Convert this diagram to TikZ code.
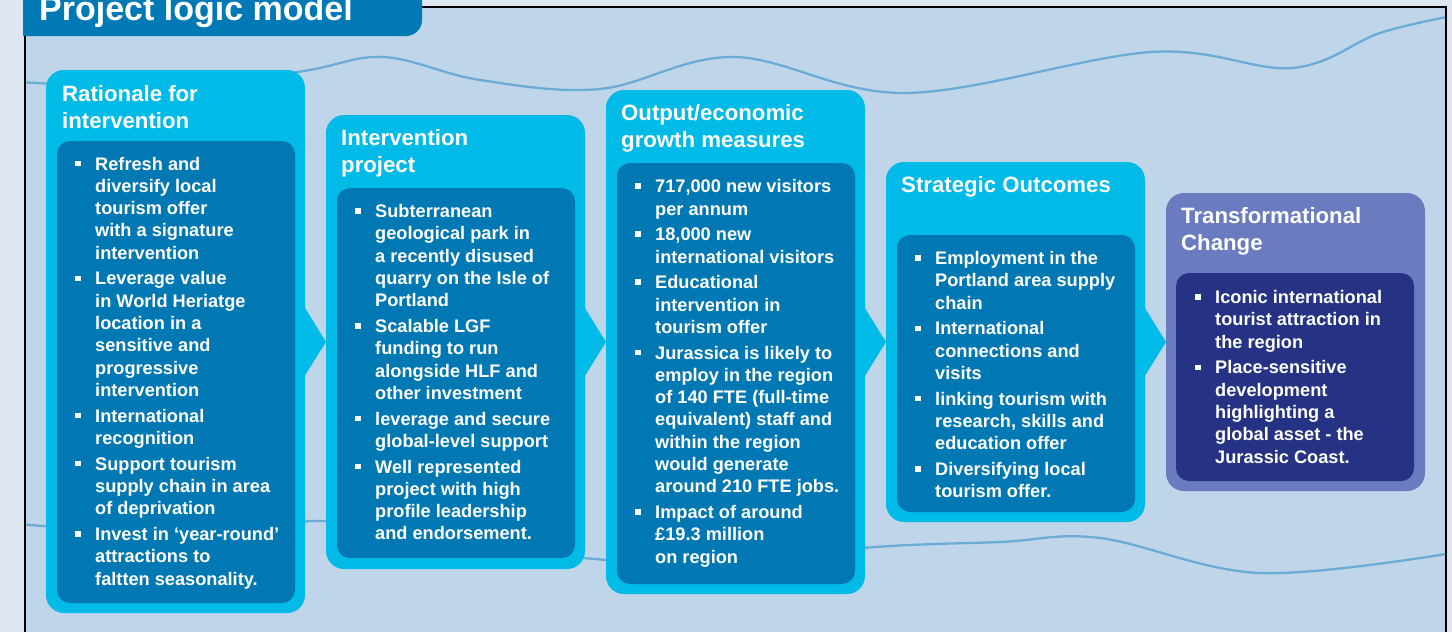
\documentclass[tikz,border=0pt]{standalone}
\usepackage{fontspec}
\setmainfont{Liberation Sans}
\usepackage{array}
\definecolor{stripc}{RGB}{222,231,242}
\definecolor{panelc}{RGB}{191,214,234}
\definecolor{tabc}{RGB}{0,121,181}
\definecolor{innerc}{RGB}{0,120,180}
\definecolor{outerc}{RGB}{0,186,231}
\definecolor{purpc}{RGB}{106,123,191}
\definecolor{navyc}{RGB}{38,50,132}
\definecolor{wavec}{RGB}{107,172,214}
\newcommand\bul{\makebox[20pt][l]{\rule[3.75pt]{5.5pt}{5.5pt}}}
\tikzset{
  outerbox/.style={rectangle, rounded corners=18pt, fill=outerc, inner sep=0pt, outer sep=0pt},
  innerbox/.style={rectangle, rounded corners=13pt, fill=innerc, inner sep=0pt, outer sep=0pt},
  listtext/.style={anchor=base west, inner sep=0pt, text=white, font=\bfseries\fontsize{18.2}{22.3}\selectfont},
  headtext/.style={anchor=base west, inner sep=0pt, text=white, font=\bfseries\fontsize{22.2}{27}\selectfont},
  wave/.style={draw=wavec, line width=2.3pt},
  frame/.style={draw=black, line width=2.4pt},
  chevron/.style={fill=outerc}
}
\begin{document}
\begin{tikzpicture}[x=1pt,y=-1pt]
\useasboundingbox (0,0) rectangle (1452,632);
% background
\fill[stripc] (0,0) rectangle (1452,632);
\fill[panelc] (24,7) rectangle (1447,632);
% waves
\begin{scope}
\clip (25,7) rectangle (1446,632);
\draw[wave] plot[smooth, tension=0.6] coordinates {(20,82) (150,86) (297,72) (383,57) (480,80) (600,89) (734,57) (906,93) (1151,52) (1292,68) (1380,33) (1452,16)};
\draw[wave] plot[smooth, tension=0.6] coordinates {(20,524) (170,533) (330,521) (460,540) (595,559) (720,562) (875,547) (1000,542) (1100,538) (1260,573) (1452,553)};
\end{scope}
% boxes
\node[outerbox, minimum width=259pt, minimum height=543pt] (c1) at (175.5,341.5) {};
\node[innerbox, minimum width=238pt, minimum height=462pt] (i1) at (176,372) {};
\node[outerbox, minimum width=259pt, minimum height=454pt] (c2) at (455.5,342) {};
\node[innerbox, minimum width=238pt, minimum height=370pt] (i2) at (456,373) {};
\node[outerbox, minimum width=259pt, minimum height=504pt] (c3) at (735.5,342) {};
\node[innerbox, minimum width=238pt, minimum height=421pt] (i3) at (736,373.5) {};
\node[outerbox, minimum width=259pt, minimum height=360pt] (c4) at (1015.5,342) {};
\node[innerbox, minimum width=238pt, minimum height=277pt] (i4) at (1016,373.5) {};
\node[outerbox, fill=purpc, minimum width=259pt, minimum height=298pt] (c5) at (1295.5,342) {};
\node[innerbox, fill=navyc, minimum width=238pt, minimum height=208pt] (i5) at (1295,377) {};
% chevrons
\fill[chevron] ([xshift=-2pt,yshift=37pt]c1.east) -- (c2.west) -- ([xshift=-2pt,yshift=-37pt]c1.east) -- cycle;
\fill[chevron] ([xshift=-2pt,yshift=37pt]c2.east) -- (c3.west) -- ([xshift=-2pt,yshift=-37pt]c2.east) -- cycle;
\fill[chevron] ([xshift=-2pt,yshift=37pt]c3.east) -- (c4.west) -- ([xshift=-2pt,yshift=-37pt]c3.east) -- cycle;
\fill[chevron] ([xshift=-2pt,yshift=37pt]c4.east) -- (c5.west) -- ([xshift=-2pt,yshift=-37pt]c4.east) -- cycle;
% headings
\node[headtext] (h1) at (62,101) {\begin{tabular}[t]{@{}l@{}}Rationale for\\intervention\end{tabular}};
\node[headtext] (h2) at (341,145.5) {\begin{tabular}[t]{@{}l@{}}Intervention\\project\end{tabular}};
\node[headtext] (h3) at (621,120.5) {\begin{tabular}[t]{@{}l@{}}Output/economic\\growth measures\end{tabular}};
\node[headtext] (h4) at (901,192.5) {Strategic Outcomes};
\node[headtext] (h5) at (1181,223.5) {\begin{tabular}[t]{@{}l@{}}Transformational\\Change\end{tabular}};
% lists
\node[listtext] (t1) at (75,170) {\begin{tabular}[t]{@{}l@{}l@{}}
\bul & Refresh and\\ & diversify local\\ & tourism offer\\ & with a signature\\ & intervention\\[3.4pt]
\bul & Leverage value\\ & in World Heriatge\\ & location in a\\ & sensitive and\\ & progressive\\ & intervention\\[3.4pt]
\bul & International\\ & recognition\\[3.4pt]
\bul & Support tourism\\ & supply chain in area\\ & of deprivation\\[3.4pt]
\bul & Invest in ‘year-round’\\ & attractions to\\ & faltten seasonality.
\end{tabular}};
\node[listtext] (t2) at (355,217.5) {\begin{tabular}[t]{@{}l@{}l@{}}
\bul & Subterranean\\ & geological park in\\ & a recently disused\\ & quarry on the Isle of\\ & Portland\\[3.4pt]
\bul & Scalable LGF\\ & funding to run\\ & alongside HLF and\\ & other investment\\[3.4pt]
\bul & leverage and secure\\ & global-level support\\[3.4pt]
\bul & Well represented\\ & project with high\\ & profile leadership\\ & and endorsement.
\end{tabular}};
\node[listtext] (t3) at (635,192.7) {\begin{tabular}[t]{@{}l@{}l@{}}
\bul & 717,000 new visitors\\ & per annum\\[3.4pt]
\bul & 18,000 new\\ & international visitors\\[3.4pt]
\bul & Educational\\ & intervention in\\ & tourism offer\\[3.4pt]
\bul & Jurassica is likely to\\ & employ in the region\\ & of 140 FTE (full-time\\ & equivalent) staff and\\ & within the region\\ & would generate\\ & around 210 FTE jobs.\\[3.4pt]
\bul & Impact of around\\ & £19.3 million\\ & on region
\end{tabular}};
\node[listtext] (t4) at (915,264.5) {\begin{tabular}[t]{@{}l@{}l@{}}
\bul & Employment in the\\ & Portland area supply\\ & chain\\[3.4pt]
\bul & International\\ & connections and\\ & visits\\[3.4pt]
\bul & linking tourism with\\ & research, skills and\\ & education offer\\[3.4pt]
\bul & Diversifying local\\ & tourism offer.
\end{tabular}};
\node[listtext] (t5) at (1195,303.5) {\begin{tabular}[t]{@{}l@{}l@{}}
\bul & Iconic international\\ & tourist attraction in\\ & the region\\[3.4pt]
\bul & Place-sensitive\\ & development\\ & highlighting a\\ & global asset - the\\ & Jurassic Coast.
\end{tabular}};
% frame lines
\draw[frame] (25,36) -- (25,632);
\draw[frame] (420,7) -- (1446,7) -- (1446,632);
% title tab
\fill[tabc] (23,-5) -- (422,-5) -- (422,20) arc[start angle=0, end angle=-90, radius=16pt] -- (23,36) -- cycle;
\node[anchor=base west, inner sep=0pt, text=white, font=\bfseries\fontsize{34}{40}\selectfont] (title) at (39,20) {Project logic model};
\end{tikzpicture}
\end{document}
